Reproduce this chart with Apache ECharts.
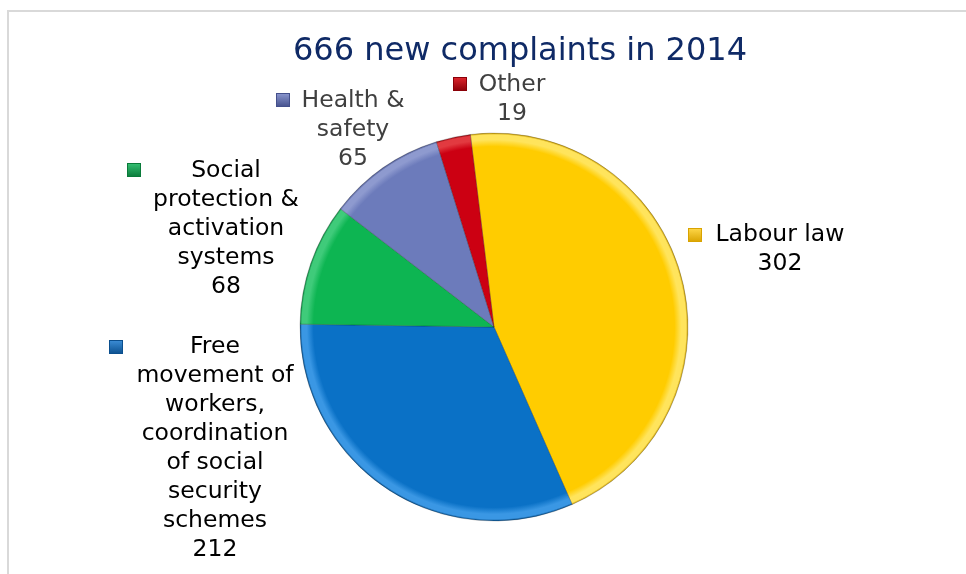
<!DOCTYPE html>
<html>
<head>
<meta charset="utf-8">
<script src="https://cdn.jsdelivr.net/npm/echarts@6/dist/echarts.min.js"></script>
<style>
html,body{margin:0;padding:0;background:#fff;}
#chart{width:966px;height:574px;}
</style>
</head>
<body>
<div id="chart"></div>
<script>
// ---- data ----
var titleText = '666 new complaints in 2014';
var categories = [
  'Labour law',
  'Free\nmovement of\nworkers,\ncoordination\nof social\nsecurity\nschemes',
  'Social\nprotection &\nactivation\nsystems',
  'Health &\nsafety',
  'Other'
];
var values = [302, 212, 68, 65, 19];

// ---- styles ----
var colors = ['#FFCC00', '#0A71C6', '#0DB552', '#6C7BBB', '#CC0012'];
var rimLight = ['#FFE45C', '#3A97E4', '#3FCB7A', '#8E9ACF', '#E23A40'];
var rimDark = ['#C79A00', '#07508E', '#0A7F3B', '#4A568F', '#8A0008'];
var markerColors = [['#FFD84A', '#D9A300'], ['#3D8FD8', '#0B4F8E'], ['#36C274', '#0A7A3A'], ['#8C98D0', '#44508C'], ['#E0262E', '#8A0008']];
var labelColors = ['#000000', '#000000', '#000000', '#404040', '#404040'];
// label anchor: [center x, first line center y]
var labelPos = [[780, 235], [215, 347], [226, 171], [353, 101], [512, 85]];
var markerPos = [[695, 235], [116, 347], [134, 170], [283, 100], [460, 84]];
var LH = 29;

var pieCenter = [494, 327];
var pieRadius = 194;
var startAngle = 97;

var chart = echarts.init(document.getElementById('chart'), null, {renderer: 'canvas'});

var mainData = values.map(function (v, i) {
  return {
    value: v,
    name: categories[i],
    itemStyle: {
      color: {
        type: 'radial', x: pieCenter[0], y: pieCenter[1], r: pieRadius, global: true,
        colorStops: [
          {offset: 0, color: colors[i]},
          {offset: 0.93, color: colors[i]},
          {offset: 0.965, color: rimLight[i]},
          {offset: 0.99, color: rimLight[i]},
          {offset: 1, color: rimDark[i]}
        ]
      }
    },
    label: {color: labelColors[i]}
  };
});

var markerData = values.map(function (v, i) {
  return {
    value: v,
    name: categories[i],
    itemStyle: {color: 'rgba(0,0,0,0)'},
    label: {
      rich: {
        m: {
          width: 12, height: 12,
          backgroundColor: {
            type: 'linear', x: 0, y: 0, x2: 0, y2: 1,
            colorStops: [{offset: 0, color: markerColors[i][0]}, {offset: 1, color: markerColors[i][1]}]
          },
          borderColor: markerColors[i][1],
          borderWidth: 1
        }
      }
    }
  };
});

chart.setOption({
  animation: false,
  backgroundColor: '#ffffff',
  title: {
    text: titleText,
    left: 515,
    top: 31,
    textAlign: 'center',
    textStyle: {
      fontFamily: 'DejaVu Sans',
      fontSize: 32,
      fontWeight: 'normal',
      color: '#0F2A66'
    }
  },
  graphic: [{
    type: 'rect',
    shape: {x: 8, y: 11, width: 980, height: 620},
    style: {fill: 'none', stroke: '#D9D9D9', lineWidth: 2},
    silent: true,
    z: -10
  }],
  series: [
    {
      type: 'pie',
      center: pieCenter,
      radius: [0, pieRadius],
      startAngle: startAngle,
      clockwise: true,
      avoidLabelOverlap: false,
      silent: true,
      itemStyle: {borderColor: 'rgba(0,0,0,0.3)', borderWidth: 0.7},
      label: {
        show: true,
        position: 'outside',
        formatter: function (p) { return p.name + '\n' + p.value; },
        fontFamily: 'DejaVu Sans',
        fontSize: 23.5,
        lineHeight: LH,
        align: 'center'
      },
      labelLine: {show: false},
      labelLayout: function (params) {
        var p = labelPos[params.dataIndex];
        return {x: p[0], y: p[1] - LH / 2, align: 'center', verticalAlign: 'top'};
      },
      data: mainData
    },
    {
      type: 'pie',
      center: pieCenter,
      radius: [0, pieRadius],
      startAngle: startAngle,
      clockwise: true,
      avoidLabelOverlap: false,
      silent: true,
      label: {
        show: true,
        position: 'outside',
        formatter: '{m|}'
      },
      labelLine: {show: false},
      labelLayout: function (params) {
        var p = markerPos[params.dataIndex];
        return {x: p[0], y: p[1], align: 'center', verticalAlign: 'middle'};
      },
      data: markerData
    }
  ]
});
</script>
</body>
</html>
